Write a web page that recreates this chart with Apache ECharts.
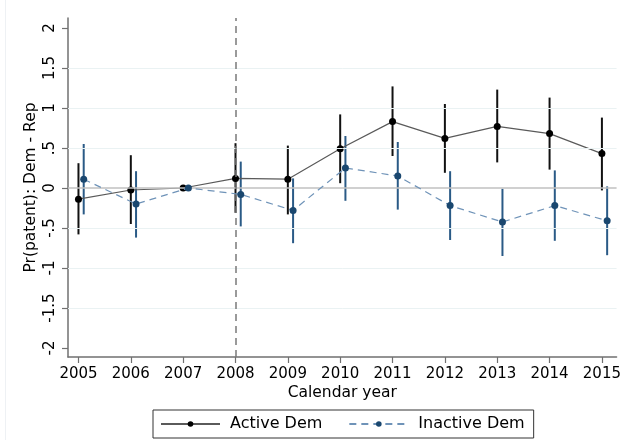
<!DOCTYPE html>
<html>
<head>
<meta charset="utf-8">
<script src="https://cdn.jsdelivr.net/npm/echarts@6/dist/echarts.min.js"></script>
<style>
html,body{margin:0;padding:0;background:#fff;}
#chart{width:624px;height:440px;}
</style>
</head>
<body>
<div id="chart"></div>
<script>
// ---- data ----
const years = [2005, 2006, 2007, 2008, 2009, 2010, 2011, 2012, 2013, 2014, 2015];
const activeEst = [-0.14, -0.025, 0, 0.12, 0.11, 0.49, 0.83, 0.62, 0.77, 0.68, 0.43];
const activeLo  = [-0.58, -0.45, null, -0.31, -0.33, 0.06, 0.40, 0.19, 0.32, 0.23, -0.03];
const activeHi  = [0.31, 0.41, null, 0.56, 0.53, 0.92, 1.27, 1.05, 1.23, 1.13, 0.88];
const inactiveEst = [0.11, -0.20, 0, -0.08, -0.28, 0.25, 0.15, -0.22, -0.425, -0.22, -0.41];
const inactiveLo  = [-0.33, -0.62, null, -0.48, -0.69, -0.16, -0.27, -0.65, -0.85, -0.66, -0.84];
const inactiveHi  = [0.55, 0.21, null, 0.33, 0.12, 0.65, 0.575, 0.21, -0.01, 0.22, 0.02];
const yTicks = [-2, -1.5, -1, -0.5, 0, 0.5, 1, 1.5, 2];
const yGrid = [-1.5, -1, -0.5, 0.5, 1, 1.5];
const eventYear = 2008;
const inactiveOffset = 0.1;

const seriesNames = ['Active Dem', 'Inactive Dem'];
const fmtY = v => {
  let s = String(v);
  s = s.replace(/^0\./, '.').replace(/^-0\./, '-.');
  return s;
};

function ciData(lo, hi, off) {
  const out = [];
  years.forEach((y, i) => { if (lo[i] != null) out.push([y + off, lo[i], hi[i]]); });
  return out;
}
function ciSeries(name, data, color) {
  return {
    type: 'custom', name: name, data: data, z: 3,
    renderItem: function (params, api) {
      const p1 = api.coord([api.value(0), api.value(1)]);
      const p2 = api.coord([api.value(0), api.value(2)]);
      return { type: 'line', shape: { x1: p1[0], y1: p1[1], x2: p2[0], y2: p2[1] },
               style: { stroke: color, lineWidth: 2 } };
    }
  };
}

const chart = echarts.init(document.getElementById('chart'), null, { renderer: 'canvas' });
const FONT = 'DejaVu Sans';
chart.setOption({
  animation: false,
  backgroundColor: '#ffffff',
  textStyle: { fontFamily: FONT },
  graphic: [{ type: 'line', shape: { x1: 5.5, y1: 0, x2: 5.5, y2: 440 }, style: { stroke: '#eef1f4', lineWidth: 1 } }],
  grid: { left: 68, right: 4, top: 18, bottom: 83 },
  xAxis: {
    type: 'value', min: 2004.8, max: 2015.28,
    name: 'Calendar year', nameLocation: 'middle', nameGap: 28, nameMoveOverlap: false,
    nameTextStyle: { fontFamily: FONT, fontSize: 15.5, color: '#000' },
    axisLine: { show: true, onZero: false, lineStyle: { color: '#707070', width: 1.5 } },
    axisTick: { show: true, length: 6, customValues: years, lineStyle: { color: '#707070', width: 1.2 } },
    axisLabel: { customValues: years, margin: 10, fontFamily: FONT, fontSize: 15, color: '#000', formatter: v => String(v) },
    splitLine: { show: false }
  },
  yAxis: {
    type: 'value', min: -2.1125, max: 2.125,
    name: 'Pr(patent): Dem - Rep', nameLocation: 'middle', nameGap: 29, nameMoveOverlap: false,
    nameTextStyle: { fontFamily: FONT, fontSize: 15.5, color: '#000' },
    axisLine: { show: true, onZero: false, lineStyle: { color: '#707070', width: 1.5 } },
    axisTick: { show: true, length: 6, customValues: yTicks, lineStyle: { color: '#707070', width: 1.2 } },
    axisLabel: { customValues: yTicks, rotate: 90, margin: 10, fontFamily: FONT, fontSize: 15, color: '#000', formatter: fmtY },
    splitLine: { show: false }
  },
  legend: {
    data: seriesNames,
    left: 153, top: 410,
    padding: [6, 9, 6, 7],
    borderColor: '#333', borderWidth: 1,
    itemWidth: 59, itemHeight: 7, itemGap: 26,
    textStyle: { fontFamily: FONT, fontSize: 16, color: '#000', padding: [0, 0, 0, 5] }
  },
  series: [
    {
      type: 'line', name: '_grid', data: [], silent: true,
      markLine: {
        silent: true, symbol: 'none', label: { show: false },
        data: yGrid.map(v => ({ yAxis: v, lineStyle: { color: '#eaf2f3', width: 1, type: 'solid' } }))
          .concat([{ yAxis: 0, lineStyle: { color: '#c0c0c0', width: 1.5, type: 'solid' } }])
          .concat([{ xAxis: eventYear, lineStyle: { color: '#7a7a7a', width: 1.5, type: [7, 5] } }])
      },
      z: 1
    },
    {
      type: 'line', name: seriesNames[0], z: 4,
      data: years.map((y, i) => [y, activeEst[i]]),
      lineStyle: { color: '#5a5a5a', width: 1.2 },
      itemStyle: { color: '#000' },
      symbol: 'circle', symbolSize: 7, showSymbol: true
    },
    ciSeries('ciActive', ciData(activeLo, activeHi, 0), '#111'),
    {
      type: 'line', name: seriesNames[1], z: 5,
      data: years.map((y, i) => [y + inactiveOffset, inactiveEst[i]]),
      lineStyle: { color: '#6f93b8', width: 1.2, type: [7, 5] },
      itemStyle: { color: '#1a476f' },
      symbol: 'circle', symbolSize: 7, showSymbol: true
    },
    ciSeries('ciInactive', ciData(inactiveLo, inactiveHi, inactiveOffset), '#2a5a86')
  ]
});
</script>
</body>
</html>
